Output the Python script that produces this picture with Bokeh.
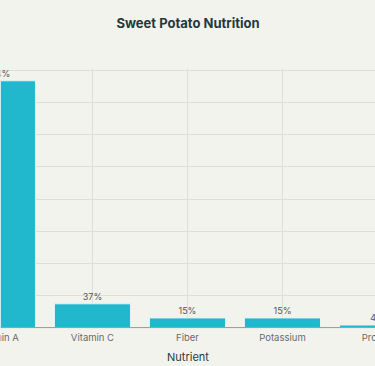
from bokeh.plotting import figure
from bokeh.models import Range1d, FixedTicker, ColumnDataSource, Span, Title
from bokeh.embed import file_html
from bokeh.resources import INLINE
from bokeh.core.properties import value

# ---- data ----
categories = ["Vitamin A", "Vitamin C", "Fiber", "Potassium", "Protein"]
values = [384, 37, 15, 15, 4]
value_labels = ["384%", "37%", "15%", "15%", "4%"]
y_ticks = [0, 50, 100, 150, 200, 250, 300, 350, 400]

BG = "#f3f3ee"
BAR = "#21b8cd"
GRID = "#dedfd8"
FONT = "Inter"

# ---- view window (the chart is shown cropped, as in the reference) ----
X_START, X_END = 0.032, 3.979
Y_START, Y_END = -23.2, 403.1

positions = list(range(len(categories)))
src = ColumnDataSource(dict(x=positions, top=values, cat=categories,
                            lab=value_labels, zero=[0] * len(categories),
                            ytop=[Y_END] * len(categories)))

p = figure(width=375, height=366, output_backend="svg", toolbar_location=None,
           x_range=Range1d(X_START, X_END), y_range=Range1d(Y_START, Y_END),
           y_axis_location=None,
           background_fill_color=BG, border_fill_color=BG, outline_line_color=None,
           min_border_left=0, min_border_right=0, min_border_top=68, min_border_bottom=22,
           title="Sweet Potato Nutrition")

p.title.align = "center"
p.title.text_font = FONT
p.title.text_font_size = "13px"
p.title.text_font_style = "bold"
p.title.text_color = "#1f3a3f"
p.title.standoff = 4

# empty spacer between the title and the plot area
p.add_layout(Title(text=" ", text_font_size="1px", standoff=33), "above")

p.ygrid.ticker = FixedTicker(ticks=y_ticks)
p.ygrid.grid_line_color = GRID
p.xgrid.visible = False

# vertical grid lines at the category centres, from the baseline up
p.segment(x0="x", y0="zero", x1="x", y1="ytop", source=src, line_color=GRID, line_width=1)

ax = p.xaxis[0]
ax.ticker = FixedTicker(ticks=[])
ax.axis_line_color = None
ax.major_tick_line_color = None
ax.minor_tick_line_color = None
ax.major_tick_out = 0
ax.major_label_standoff = 0
ax.axis_label = "Nutrient"
ax.axis_label_text_font = FONT
ax.axis_label_text_font_style = "normal"
ax.axis_label_text_font_size = "11px"
ax.axis_label_text_color = "#2a3a3c"
ax.axis_label_standoff = 7

p.vbar(x="x", top="top", width=0.8, source=src, fill_color=BAR,
       line_color="#dff4f7", line_width=1)

# baseline (x axis line at 0)
p.add_layout(Span(location=0, dimension="width", line_color="#9a9a96", line_width=1))

p.text(x="x", y="top", text="lab", source=src, text_align="center",
       text_baseline="bottom", y_offset=-2, text_font=value(FONT),
       text_font_size="9px", text_color="#555555")

p.text(x="x", y="zero", text="cat", source=src, text_align="center",
       text_baseline="top", y_offset=4, text_font=value(FONT),
       text_font_size="9.5px", text_color="#6a6a6a")

html = file_html(p, INLINE, title="Sweet Potato Nutrition")
html = html.replace("<head>", "<head><style>html,body{margin:0;padding:0;background:#f3f3ee;overflow:hidden}</style>", 1)
open("out.html", "w").write(html)
